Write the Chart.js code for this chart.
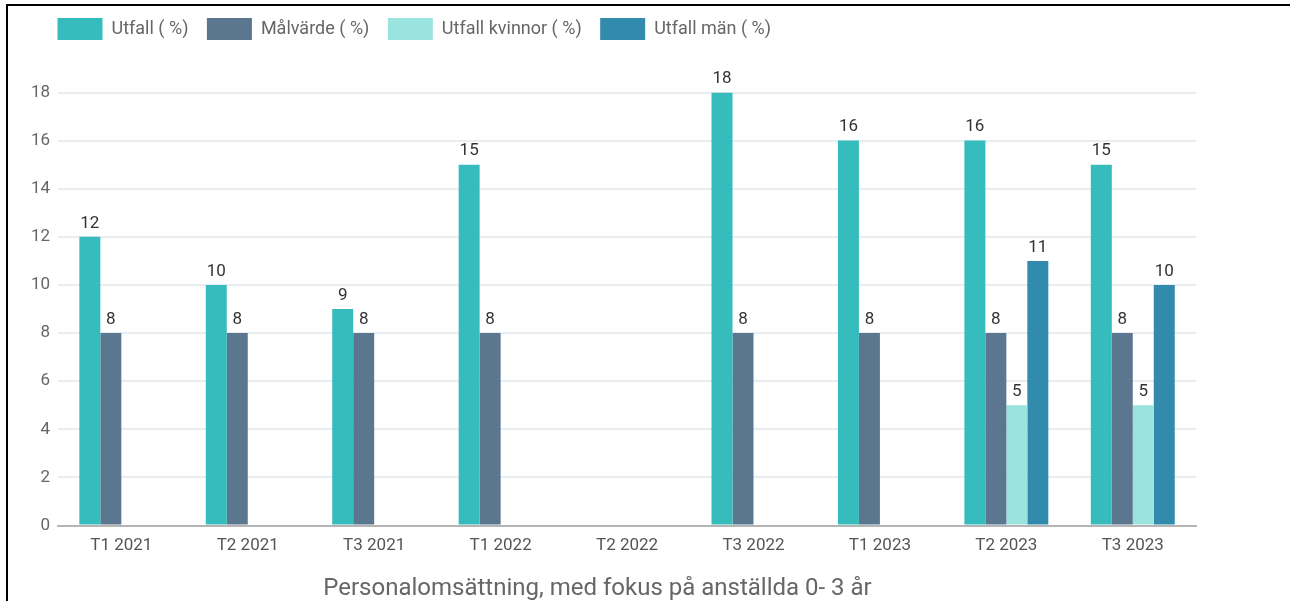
<!DOCTYPE html>
<html>
<head>
<meta charset="utf-8">
<script src="https://cdn.jsdelivr.net/npm/chart.js@4.4.0/dist/chart.umd.min.js"></script>
<style>
  html, body { margin: 0; padding: 0; background: #fff; }
  .frame {
    position: absolute;
    left: 6px;
    top: 4px;
    width: 1284px;
    height: 597px;
    border-top: 2px solid #000;
    border-left: 2px solid #000;
    box-sizing: border-box;
  }
  .frame canvas { display: block; }
</style>
</head>
<body>
<div class="frame">
  <canvas id="chart" width="1282" height="595"></canvas>
</div>
<script>
const labels = ["T1 2021", "T2 2021", "T3 2021", "T1 2022", "T2 2022", "T3 2022", "T1 2023", "T2 2023", "T3 2023"];
const utfall = [12, 10, 9, 15, null, 18, 16, 16, 15];
const malvarde = [8, 8, 8, 8, null, 8, 8, 8, 8];
const utfallKvinnor = [null, null, null, null, null, null, null, 5, 5];
const utfallMan = [null, null, null, null, null, null, null, 11, 10];
const yTicks = [0, 2, 4, 6, 8, 10, 12, 14, 16, 18];
const chartTitle = "Personalomsättning, med fokus på anställda 0- 3 år";

Chart.defaults.font.family = "Roboto, 'Noto Sans', sans-serif";

// values printed above each bar
const barValues = {
  id: "barValues",
  afterDatasetsDraw(chart) {
    const ctx = chart.ctx;
    ctx.save();
    ctx.font = "17px Roboto, sans-serif";
    ctx.fillStyle = "#333";
    ctx.textAlign = "center";
    ctx.textBaseline = "bottom";
    chart.data.datasets.forEach((ds, i) => {
      const meta = chart.getDatasetMeta(i);
      if (meta.hidden) return;
      meta.data.forEach((bar, j) => {
        const v = ds.data[j];
        if (v === null || v === undefined) return;
        ctx.fillText(String(v), bar.x, bar.y - 5);
      });
    });
    ctx.restore();
  }
};

// extra room between legend and plot, legend and title nudged into place
const legendGap = {
  id: "legendGap",
  beforeInit(chart) {
    const fit = chart.legend.fit;
    chart.legend.fit = function () {
      fit.bind(chart.legend)();
      this.height += 36;
    };
  },
  afterLayout(chart) {
    const lg = chart.legend;
    lg.left += 16;
    lg.right += 16;
    lg.top -= 6.5;
    lg.bottom -= 6.5;
    const tb = chart.titleBlock;
    if (tb) {
      tb.left -= 12;
      tb.right -= 12;
    }
  }
};

new Chart(document.getElementById("chart"), {
  type: "bar",
  data: {
    labels: labels,
    datasets: [
      { label: "Utfall ( %)", data: utfall, backgroundColor: "#36bcbc" },
      { label: "Målvärde ( %)", data: malvarde, backgroundColor: "#5a778f" },
      { label: "Utfall kvinnor ( %)", data: utfallKvinnor, backgroundColor: "#9ae3de" },
      { label: "Utfall män ( %)", data: utfallMan, backgroundColor: "#328bad" }
    ]
  },
  options: {
    responsive: false,
    animation: false,
    devicePixelRatio: 1,
    layout: { padding: { left: 15, right: 94, top: 0, bottom: 0 } },
    datasets: {
      bar: { categoryPercentage: 0.664, barPercentage: 1, skipNull: false }
    },
    plugins: {
      legend: {
        position: "top",
        align: "start",
        labels: {
          boxWidth: 45,
          boxHeight: 22,
          padding: 18.5,
          color: "#666",
          font: { size: 18 }
        }
      },
      title: {
        display: true,
        text: chartTitle,
        position: "bottom",
        color: "#666",
        font: { size: 24, weight: "normal", lineHeight: 1.0 },
        padding: { top: 11, bottom: 0 }
      },
      tooltip: { enabled: false }
    },
    scales: {
      x: {
        grid: { display: false, drawTicks: false },
        border: { color: "#b5b5b5", width: 2 },
        ticks: { color: "#555", font: { size: 17 }, padding: 10 }
      },
      y: {
        min: 0,
        max: 18,
        afterBuildTicks(axis) {
          axis.ticks = yTicks.map(v => ({ value: v }));
        },
        grid: { color: "#e8edf2", lineWidth: 2, drawTicks: false },
        border: { display: false },
        ticks: { color: "#666", font: { size: 17 }, padding: 8 }
      }
    }
  },
  plugins: [barValues, legendGap]
});
</script>
</body>
</html>
